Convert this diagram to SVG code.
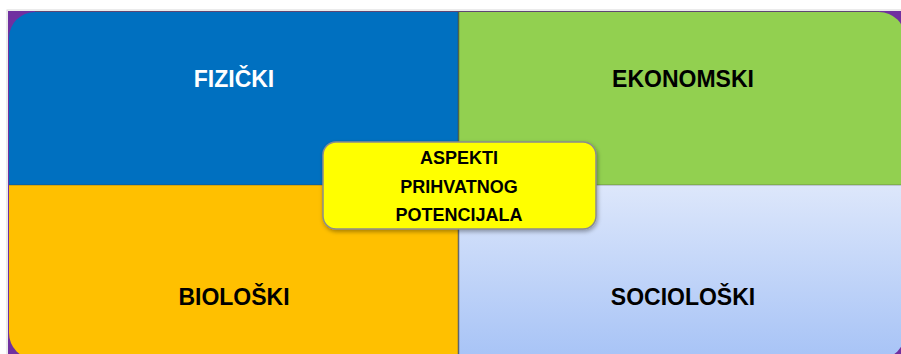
<svg xmlns="http://www.w3.org/2000/svg" width="901" height="354" viewBox="0 0 901 354">
<defs>
<linearGradient id="gSoc" x1="0" y1="0" x2="0" y2="1">
<stop offset="0" stop-color="#DDE7FB"/>
<stop offset="1" stop-color="#A7C3F6"/>
</linearGradient>
<filter id="sh" x="-10%" y="-10%" width="120%" height="130%">
<feDropShadow dx="1" dy="2" stdDeviation="2" flood-color="#000" flood-opacity="0.35"/>
</filter>
<style>
.lbl{font-family:"Liberation Sans",Arial,sans-serif;font-weight:bold;font-size:23px;text-anchor:middle}
.ctr{font-family:"Liberation Sans",Arial,sans-serif;font-weight:bold;font-size:18px;text-anchor:middle;fill:#000}
</style>
</defs>
<rect x="7" y="10" width="900" height="350" fill="none" stroke="#d8d8d8" stroke-width="1"/>
<rect x="8" y="11" width="900" height="350" fill="#7030A0"/>
<g id="fizicki">
<path d="M9 38 A26 26 0 0 1 35 12 L458 12 L458 185 L9 185 Z" fill="#0070C0"/>
<text class="lbl" x="234" y="87" fill="#fff">FIZIČKI</text>
</g>
<g id="ekonomski">
<path d="M458 12 L879 12 A26 26 0 0 1 905 38 L905 185 L458 185 Z" fill="#92D050"/>
<text class="lbl" x="683" y="87" fill="#000">EKONOMSKI</text>
</g>
<g id="bioloski">
<path d="M9 185 L458 185 L458 359 L35 359 A26 26 0 0 1 9 333 Z" fill="#FFC000"/>
<text class="lbl" x="234" y="305" fill="#000">BIOLOŠKI</text>
</g>
<g id="socioloski">
<path d="M458 185 L905 185 L905 333 A26 26 0 0 1 879 359 L458 359 Z" fill="url(#gSoc)"/>
<text class="lbl" x="683" y="305" fill="#000">SOCIOLOŠKI</text>
</g>
<g id="connectors">
<line x1="458.5" y1="12" x2="458.5" y2="359" stroke="#3a3a3a" stroke-width="1.5" opacity="0.7"/>
<line x1="9" y1="185" x2="905" y2="185" stroke="#3a3a3a" stroke-width="1" opacity="0.4"/>
<line x1="35" y1="11.5" x2="879" y2="11.5" stroke="#555" stroke-width="1" opacity="0.6"/>
</g>
<g id="aspekti">
<rect x="323" y="142" width="273" height="87" rx="13" fill="#FFFF00" stroke="#8c8c8c" stroke-width="1.5" filter="url(#sh)"/>
<text class="ctr" x="459" y="164">ASPEKTI</text>
<text class="ctr" x="459" y="193">PRIHVATNOG</text>
<text class="ctr" x="459" y="221">POTENCIJALA</text>
</g>
</svg>
